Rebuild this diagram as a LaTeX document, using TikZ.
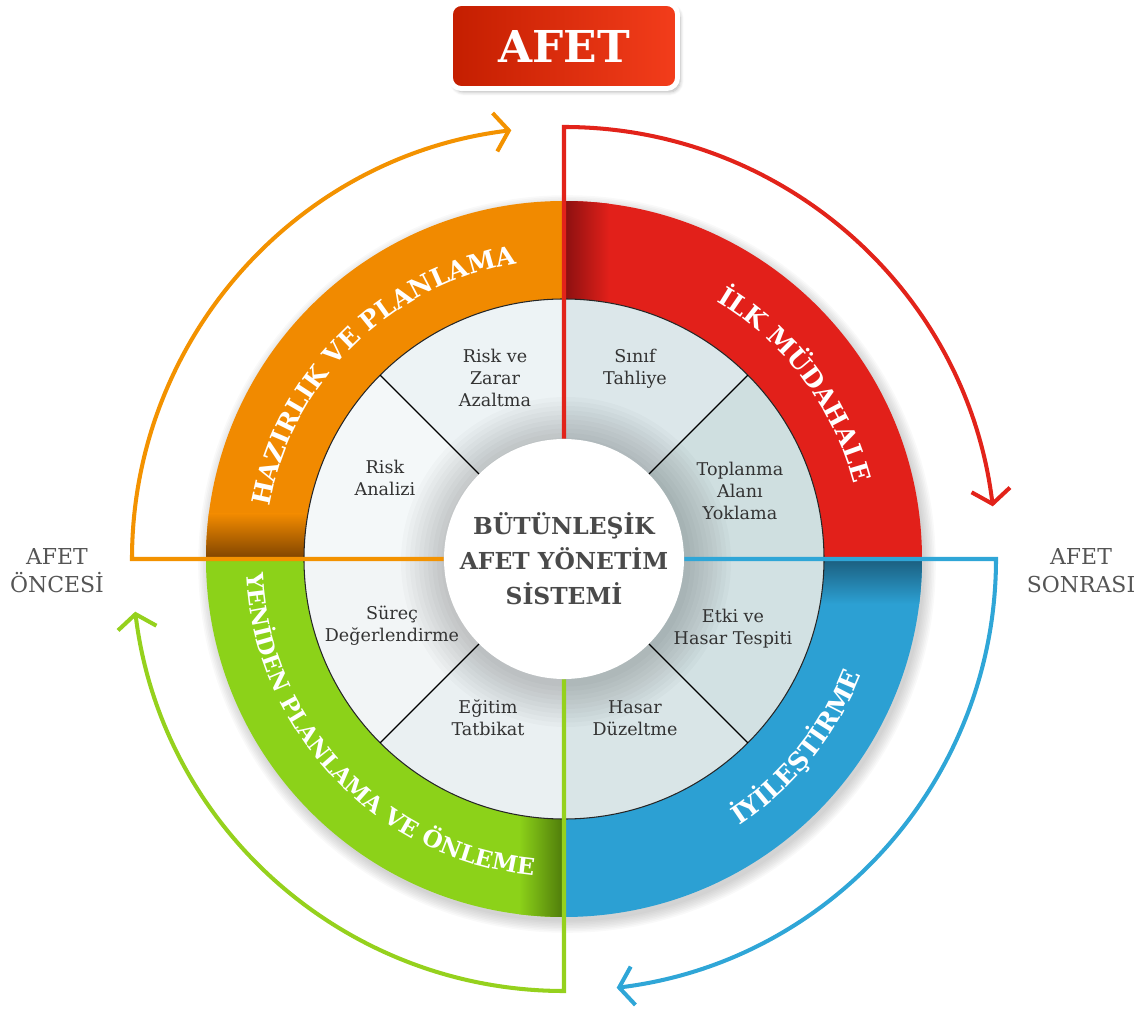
\documentclass[tikz,border=0pt]{standalone}
\usepackage{fontspec}
\setmainfont{DejaVu Serif}
\usetikzlibrary{arrows.meta,decorations.text,shadows.blur}
\definecolor{hzOrange}{HTML}{F18A00}
\definecolor{hzDark}{HTML}{7E4300}
\definecolor{ilkRed}{HTML}{E2201A}
\definecolor{ilkDark}{HTML}{8A1010}
\definecolor{iyiBlue}{HTML}{2CA0D3}
\definecolor{iyiDark}{HTML}{1B5E7E}
\definecolor{ynGreen}{HTML}{8CD219}
\definecolor{ynDark}{HTML}{4E7A0A}
\definecolor{lineOrange}{HTML}{F39200}
\definecolor{lineRed}{HTML}{E2231A}
\definecolor{lineBlue}{HTML}{2FA6D7}
\definecolor{lineGreen}{HTML}{95D11D}
\definecolor{afetDark}{HTML}{C41E00}
\definecolor{afetLight}{HTML}{F33D1B}
\definecolor{inkGray}{HTML}{333333}
\definecolor{titleGray}{HTML}{4A4A4A}
\definecolor{sideGray}{HTML}{555555}
\definecolor{inA}{HTML}{CFDFE0}
\definecolor{inB}{HTML}{DCE7EA}
\definecolor{inC}{HTML}{EDF3F5}
\definecolor{inD}{HTML}{F4F8F9}
\definecolor{inE}{HTML}{F2F5F6}
\definecolor{inF}{HTML}{EAF0F2}
\definecolor{inG}{HTML}{D9E5E7}
\definecolor{inH}{HTML}{D2E1E3}
\newcommand{\ringfont}{\fontsize{14.5}{14.5}\selectfont\bfseries\color{white}}
\newcommand{\ringfontsm}{\fontsize{13.2}{13.2}\selectfont\bfseries\color{white}}

\begin{document}
\begin{tikzpicture}[x=0.02cm,y=0.02cm,
  sector/.style={align=center,font=\fontsize{10}{12.5}\selectfont,text=inkGray},
  side/.style={align=center,font=\fontsize{12.5}{16}\selectfont,text=sideGray},
  cycle line/.style={line width=2.3pt,-{Straight Barb[length=8pt,width=22pt]}},
  ring label/.style={decorate,decoration={text along path,text align=center,text={#1}}},
  banner/.style={rounded corners=6pt,left color=afetDark,right color=afetLight,draw=white,line width=2.8pt,
    minimum width=4.54cm,minimum height=1.7cm,text=white,font=\fontsize{25}{25}\selectfont\bfseries,
    blur shadow={shadow xshift=1.5pt,shadow yshift=-2pt,shadow blur steps=6,shadow opacity=30}}]
\useasboundingbox (-564,-451) rectangle (581,559);
\foreach \k in {1,...,8}
  \fill[black,opacity=0.025] (3,-5) circle ({356+\k*1.6});
\foreach \a/\c in {90/hzOrange,0/ilkRed,-90/iyiBlue,180/ynGreen}
  \fill[\c] (\a:260) arc[start angle=\a,end angle={\a+90},radius=260]
    -- ({\a+90}:358) arc[start angle={\a+90},end angle=\a,radius=358] -- cycle;
\begin{scope}
\clip (0,0) circle (358);
\shade[top color=hzOrange,bottom color=hzDark] (-360,0) rectangle (-255,45);
\shade[left color=ilkDark,right color=ilkRed] (0,255) rectangle (45,360);
\shade[top color=iyiDark,bottom color=iyiBlue] (255,0) rectangle (360,-45);
\shade[left color=ynGreen,right color=ynDark] (-45,-255) rectangle (0,-360);
\end{scope}
\foreach \a/\c in {0/inA,45/inB,90/inC,135/inD,180/inE,225/inF,270/inG,315/inH}
  \fill[\c] (0,0) -- (\a:260) arc[start angle=\a,end angle={\a+45},radius=260] -- cycle;
\draw[line width=0.6pt,black!85] (0,0) circle (260);
\foreach \k in {1,...,10}
  \fill[black,opacity=0.018] (2,-3) circle ({120+\k*4.5});
\node[circle,fill=white,minimum size=4.8cm,inner sep=0pt,align=center,text=titleGray,
  font=\fontsize{13.3}{20}\selectfont\bfseries] (core) at (0,0) {BÜTÜNLEŞİK\\AFET YÖNETİM\\SİSTEMİ};
\foreach \a in {45,135,225,315}
  \draw[line width=0.7pt] (core.\a) -- (\a:260);
\coordinate (preCorner) at (-432,0);
\coordinate (alarmCorner) at (0,432);
\coordinate (postCorner) at (432,0);
\coordinate (renewCorner) at (0,-432);
\draw[cycle line,lineOrange] (core.west) -- (preCorner) arc[start angle=180,end angle=97,radius=432];
\draw[cycle line,lineRed] (core.north) -- (alarmCorner) arc[start angle=90,end angle=7,radius=432];
\draw[cycle line,lineBlue] (core.east) -- (postCorner) arc[start angle=0,end angle=-83,radius=432];
\draw[cycle line,lineGreen] (core.south) -- (renewCorner) arc[start angle=270,end angle=187,radius=432];
\path[ring label={|\ringfont|HAZIRLIK VE PLANLAMA}] (179.5:299) arc[start angle=179.5,end angle=89.5,radius=299];
\path[ring label={|\ringfont|İLK MÜDAHALE}] (82:299) arc[start angle=82,end angle=-8,radius=299];
\path[ring label={|\ringfont|İYİLEŞTİRME}] (-84:319) arc[start angle=-84,end angle=6,radius=319];
\path[ring label={|\ringfontsm|YENİDEN PLANLAMA VE ÖNLEME}] (178.5:318) arc[start angle=178.5,end angle=268.5,radius=318];
\node[sector] (riskZarar) at (-69,181) {Risk ve\\Zarar\\Azaltma};
\node[sector] (riskAnaliz) at (-179,81) {Risk\\Analizi};
\node[sector] (tahliye) at (71,190) {Sınıf\\Tahliye};
\node[sector] (yoklama) at (176,68) {Toplanma\\Alanı\\Yoklama};
\node[sector] (surec) at (-172,-67) {Süreç\\Değerlendirme};
\node[sector] (egitim) at (-76,-159) {Eğitim\\Tatbikat};
\node[sector] (tespit) at (169,-70) {Etki ve\\Hasar Tespiti};
\node[sector] (duzeltme) at (71,-159) {Hasar\\Düzeltme};
\node[side] (preLabel) at (-507,-12) {AFET\\ÖNCESİ};
\node[side] (postLabel) at (517,-12) {AFET\\SONRASI};
\node[banner] (afet) at (0,513) {AFET};
\end{tikzpicture}
\end{document}
